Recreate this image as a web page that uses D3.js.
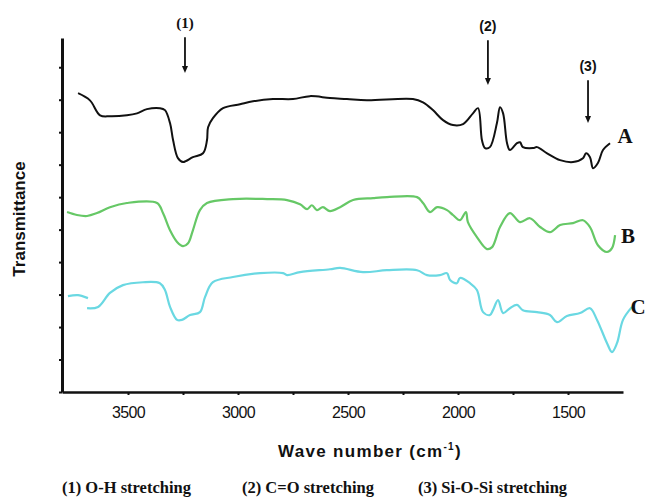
<!DOCTYPE html>
<html>
<head>
<meta charset="utf-8">
<script src="https://cdn.jsdelivr.net/npm/d3@7"></script>
<style>
  body { margin: 0; background: #fff; }
  svg { display: block; }
</style>
</head>
<body>
<svg id="chart" width="647" height="498"></svg>
<script>
// [wavenumber cm-1, transmittance (arb.)]
const seriesA = [
  [3727, 92.0], [3673, 89.8], [3627, 85.2], [3582, 84.9], [3505, 85.2], [3459, 85.8],
  [3414, 87.1], [3355, 87.4], [3332, 86.8], [3309, 82.8], [3295, 77.5], [3273, 72.0],
  [3250, 70.8], [3205, 72.3], [3159, 73.5], [3141, 77.5], [3136, 81.5], [3114, 84.3],
  [3068, 87.4], [2991, 88.6], [2932, 89.5], [2841, 90.2], [2750, 90.2], [2673, 91.1],
  [2582, 90.5], [2505, 90.2], [2414, 89.8], [2205, 90.2], [2159, 89.2], [2114, 86.8],
  [2068, 83.7], [2023, 82.2], [1977, 82.5], [1932, 85.8], [1909, 87.4], [1891, 77.5],
  [1877, 75.1], [1855, 75.4], [1823, 82.8], [1809, 87.7], [1795, 85.8], [1777, 76.6],
  [1764, 74.5], [1732, 76.6], [1718, 76.9], [1705, 75.4], [1659, 75.1], [1641, 75.4],
  [1595, 73.5], [1536, 71.4], [1477, 70.8], [1432, 72.0], [1418, 73.5], [1400, 72.3],
  [1386, 68.9], [1364, 70.5], [1341, 74.5], [1309, 76.6]
];
const seriesB = [
  [3777, 55.4], [3732, 54.5], [3686, 54.2], [3641, 55.1], [3582, 56.9], [3505, 58.2],
  [3368, 58.2], [3341, 55.1], [3309, 49.8], [3277, 46.2], [3250, 44.9], [3227, 45.8],
  [3205, 49.8], [3173, 56.0], [3141, 58.2], [3023, 59.4], [2868, 59.4], [2777, 59.1],
  [2718, 57.8], [2686, 56.3], [2664, 57.5], [2641, 56.0], [2614, 56.9], [2582, 55.7],
  [2536, 56.9], [2477, 59.1], [2386, 59.7], [2323, 60.0], [2186, 60.0], [2159, 58.2],
  [2127, 55.4], [2095, 56.9], [2050, 56.0], [2023, 54.5], [1991, 52.9], [1964, 55.4],
  [1955, 52.3], [1914, 47.7], [1868, 44.0], [1845, 44.6], [1809, 50.8], [1764, 55.1],
  [1718, 52.3], [1673, 53.5], [1627, 50.8], [1582, 49.2], [1536, 51.4], [1477, 52.0],
  [1432, 52.9], [1400, 50.8], [1364, 45.2], [1323, 43.1], [1300, 44.3], [1286, 48.3]
];
// null marks the small gap near the start of trace C
const seriesC = [
  [3773, 29.5], [3727, 29.8], [3682, 28.9], [3684, null],
  [3686, 25.8], [3636, 26.2], [3582, 30.5], [3523, 32.9], [3432, 33.8], [3355, 33.5],
  [3332, 31.4], [3309, 26.2], [3277, 22.2], [3255, 22.2], [3218, 23.7], [3173, 24.6],
  [3150, 29.2], [3114, 33.8], [3023, 35.4], [2900, 36.6], [2795, 36.6], [2777, 36.0],
  [2718, 36.9], [2582, 37.8], [2536, 38.2], [2432, 36.9], [2323, 37.5], [2186, 37.5],
  [2141, 36.0], [2082, 36.0], [2050, 36.6], [2036, 34.5], [2005, 33.5], [1991, 35.1],
  [1945, 33.5], [1914, 31.4], [1886, 24.6], [1855, 23.7], [1841, 25.2], [1818, 28.3],
  [1795, 24.3], [1764, 25.8], [1732, 26.8], [1705, 25.2], [1641, 24.6], [1582, 23.7],
  [1550, 21.5], [1505, 23.4], [1445, 24.3], [1400, 25.8], [1368, 22.2], [1323, 15.1],
  [1300, 12.3], [1277, 15.1], [1250, 22.2], [1209, 26.2]
];

const seriesNames = ["A", "B", "C"];
const seriesColors = ["#111", "#66c866", "#6ad8e2"];

const xTicks = [3500, 3250, 3000, 2750, 2500, 2250, 2000, 1750, 1500];
const yTicks = [0, 10, 20, 30, 40, 50, 60, 70, 80, 90, 100];

// peak markers: label, wavenumber, arrow start, arrow tip (y units)
const markerLabels = ["(1)", "(2)", "(3)"];
const markerWave = [3241, 1864, 1409];
const markerTop = [109.2, 108.3, 96.0];
const markerTip = [98.2, 94.5, 82.8];

const bandLabels = ["(1) O-H stretching", "(2) C=O stretching", "(3) Si-O-Si stretching"];

const svg = d3.select("#chart");

const x = d3.scaleLinear().domain([3800, 1250]).range([62, 623]);
const y = d3.scaleLinear().domain([0, 109]).range([392, 38]);

// axes
const xAxis = d3.axisBottom(x)
  .tickValues(xTicks)
  .tickSize(3)
  .tickSizeOuter(0)
  .tickFormat(d => d % 500 === 0 ? d : "");

const gx = svg.append("g")
  .attr("transform", "translate(0,392)")
  .call(xAxis);
gx.select(".domain").attr("stroke", "#111").attr("stroke-width", 2.5);
gx.selectAll(".tick line").attr("stroke", "#111").attr("stroke-width", 2);
gx.selectAll(".tick text")
  .attr("y", 26).attr("dy", null)
  .attr("fill", "#111")
  .style("font-family", "Liberation Sans, Arial, sans-serif")
  .style("font-size", "16px")
  .style("letter-spacing", "-0.6px");

const yAxis = d3.axisLeft(y)
  .tickValues(yTicks)
  .tickSize(3)
  .tickSizeOuter(0)
  .tickFormat("");

const gy = svg.append("g")
  .attr("transform", "translate(62,0)")
  .call(yAxis);
gy.select(".domain").attr("stroke", "#111").attr("stroke-width", 3);
gy.selectAll(".tick line").attr("stroke", "#111").attr("stroke-width", 2);

// axis titles
svg.append("text")
  .attr("x", 370).attr("y", 457)
  .attr("text-anchor", "middle")
  .style("font-family", "Liberation Sans, Arial, sans-serif")
  .style("font-weight", "bold")
  .style("font-size", "17px")
  .style("letter-spacing", "1.3px")
  .attr("fill", "#111")
  .call(t => {
    t.append("tspan").text("Wave number (cm");
    t.append("tspan").text("-1").attr("dy", -7).style("font-size", "10px");
    t.append("tspan").text(")").attr("dy", 7);
  });

svg.append("text")
  .attr("transform", "translate(25,219) rotate(-90)")
  .attr("text-anchor", "middle")
  .style("font-family", "Liberation Sans, Arial, sans-serif")
  .style("font-weight", "bold")
  .style("font-size", "17px")
  .attr("fill", "#111")
  .text("Transmittance");

// spectra
const line = d3.line()
  .defined(d => d[1] != null)
  .x(d => x(d[0]))
  .y(d => y(d[1]))
  .curve(d3.curveCatmullRom.alpha(0.5));

const allSeries = [seriesA, seriesB, seriesC];

svg.append("g")
  .selectAll("path")
  .data(allSeries)
  .join("path")
  .attr("fill", "none")
  .attr("stroke", (d, i) => seriesColors[i])
  .attr("stroke-width", (d, i) => i === 0 ? 2 : 2.2)
  .attr("stroke-linejoin", "round")
  .attr("d", line);

// series letters at the right end of each trace
const labelShift = [[15, -8], [13, 0], [6, 0]];
svg.append("g")
  .selectAll("text")
  .data(allSeries)
  .join("text")
  .attr("x", (d, i) => x(d[d.length - 1][0]) + labelShift[i][0])
  .attr("y", (d, i) => y(d[d.length - 1][1]) + labelShift[i][1])
  .attr("dy", "0.36em")
  .attr("text-anchor", "middle")
  .style("font-family", "Liberation Serif, Times New Roman, serif")
  .style("font-weight", "bold")
  .style("font-size", "21px")
  .attr("fill", "#111")
  .text((d, i) => seriesNames[i]);

// peak arrows
const markers = svg.append("g");
markerWave.forEach((w, i) => {
  markers.append("line")
    .attr("x1", x(w)).attr("x2", x(w))
    .attr("y1", y(markerTop[i])).attr("y2", y(markerTip[i]) - 6)
    .attr("stroke", "#111")
    .attr("stroke-width", 1.8);
  markers.append("path")
    .attr("d", `M${x(w) - 3},${y(markerTip[i]) - 7}L${x(w) + 3},${y(markerTip[i]) - 7}L${x(w)},${y(markerTip[i])}Z`)
    .attr("fill", "#111");
  markers.append("text")
    .attr("x", x(w))
    .attr("y", y(markerTop[i]) - 9)
    .attr("text-anchor", "middle")
    .style("font-family", i === 0 ? "Liberation Serif, serif" : "Liberation Sans, Arial, sans-serif")
    .style("font-weight", "bold")
    .style("font-size", i === 0 ? "15px" : "14px")
    .attr("fill", "#111")
    .text(markerLabels[i]);
});

// band legend along the bottom
const bandX = [62, 242, 418];
svg.append("g")
  .selectAll("text")
  .data(bandLabels)
  .join("text")
  .attr("x", (d, i) => bandX[i])
  .attr("y", 493)
  .style("font-family", "Liberation Serif, Times New Roman, serif")
  .style("font-weight", "bold")
  .style("font-size", "16.5px")
  .attr("fill", "#111")
  .text(d => d);
</script>
</body>
</html>
